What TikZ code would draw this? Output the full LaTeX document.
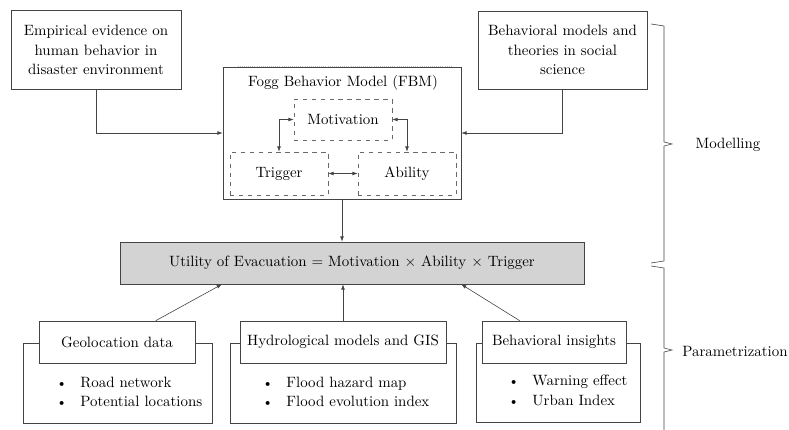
\documentclass[tikz,border=0pt]{standalone}
\usepackage{amsmath, amssymb}
\usepackage[usenames,dvipsnames, x11names, rgb]{xcolor}
\usepackage{tikz}
\usetikzlibrary{arrows.meta, calc}

\definecolor{boxline}{HTML}{444444}
\definecolor{utilfill}{HTML}{D3D3D3}
\newdimen\pxu
\pxu=0.67pt

\begin{document}
\begin{tikzpicture}[x=\pxu, y=-\pxu,
        box/.style={draw=boxline, fill=white, align=center, inner sep=0pt},
        dbox/.style={draw=boxline!80, dashed, fill=white, inner sep=0pt, minimum width=98\pxu},
        arr/.style={-{Latex[length=3.5pt, width=2.5pt]}, boxline},
        darr/.style={{Latex[length=3.5pt, width=2.5pt]}-{Latex[length=3.5pt, width=2.5pt]}, boxline},
        bracket/.style={boxline}]
        \useasboundingbox (0,0) rectangle (789,430);

        % top inputs
        \node (empirical) at (96,50)[box, minimum width=170\pxu, minimum height=79\pxu] {Empirical evidence on\\[1pt]human behavior in\\[1pt]disaster environment};
        \node (theories) at (562.5,50)[box, minimum width=169\pxu, minimum height=78\pxu] {Behavioral models and\\[1pt]theories in social\\[1pt]science};

        % Fogg model
        \node (fbm) at (342,133)[box, minimum width=238\pxu, minimum height=132\pxu] {};
        \draw[white, thick] ($(fbm.north west)+(15,0)$) -- ($(fbm.north east)+(-9,0)$);
        \draw[gray!50, densely dotted] ($(fbm.north west)+(15,0)$) -- ($(fbm.north east)+(-9,0)$);
        \node (fbm-title) at (343,83) {Fogg Behavior Model (FBM)};
        \node (motivation) at (343,119.5)[dbox, minimum height=41\pxu] {Motivation};
        \node (trigger) at (279,173.5)[dbox, minimum height=43\pxu] {Trigger};
        \node (ability) at (407,173.5)[dbox, minimum height=43\pxu] {Ability};

        % utility
        \node (utility) at (352,263)[box, fill=utilfill, minimum width=464\pxu, minimum height=42\pxu] {Utility of Evacuation = Motivation \(\times\) Ability \(\times\) Trigger};

        % data sources
        \node (geo-list) at (117.5,383)[draw=boxline, minimum width=189\pxu, minimum height=80\pxu] {};
        \node (hyd-list) at (343,383)[draw=boxline, minimum width=226\pxu, minimum height=80\pxu] {};
        \node (ins-list) at (558,382.5)[draw=boxline, minimum width=164\pxu, minimum height=79\pxu] {};
        \node (geo) at (117,342)[box, minimum width=156\pxu, minimum height=42\pxu] {Geolocation data};
        \node (hyd) at (343,342)[box, minimum width=206\pxu, minimum height=42\pxu] {Hydrological models and GIS};
        \node (ins) at (554,342)[box, minimum width=144\pxu, minimum height=42\pxu] {Behavioral insights};

        \node (geo-items) at (56,393.5)[anchor=west, inner sep=0pt] {\begin{tabular}{@{}l@{\hspace{9pt}}l@{}}{\small\textbullet} & Road network\\[1pt] {\small\textbullet} & Potential locations\end{tabular}};
        \node (hyd-items) at (262,393.5)[anchor=west, inner sep=0pt] {\begin{tabular}{@{}l@{\hspace{9pt}}l@{}}{\small\textbullet} & Flood hazard map\\[1pt] {\small\textbullet} & Flood evolution index\end{tabular}};
        \node (ins-items) at (508,392)[anchor=west, inner sep=0pt] {\begin{tabular}{@{}l@{\hspace{9pt}}l@{}}{\small\textbullet} & Warning effect\\[1pt] {\small\textbullet} & Urban Index\end{tabular}};

        % braces
        \coordinate (mod-top) at (651,24);
        \coordinate (mod-tip) at (672,144);
        \coordinate (mod-bot) at (651,263);
        \coordinate (par-top) at (651,266);
        \coordinate (par-tip) at (672,350);
        \coordinate (par-bot) at (651,437);
        \node (modelling) at (728,145) {Modelling};
        \node (parametrization) at (735,351) {Parametrization};

        \draw[arr] (empirical) |- (fbm);
        \draw[arr] (theories) |- (fbm);
        \draw[darr] (motivation) -| (trigger);
        \draw[darr] (motivation) -| (ability);
        \draw[darr] (trigger) -- (ability);
        \draw[arr] (fbm) -- (fbm.south |- utility.north);
        \draw[arr] (geo) -- ($(utility.south west)!0.22!(utility.south east)$);
        \draw[arr] (hyd) -- (hyd.north |- utility.south);
        \draw[arr] (ins) -- ($(utility.south west)!0.735!(utility.south east)$);
        \draw[bracket] (mod-top) -- ++(13,2) |- ($(mod-tip)+(-8,-2)$) -- (mod-tip) -- ++(-8,2) |- ($(mod-bot)+(13,-2)$) -- (mod-bot);
        \draw[bracket] (par-top) -- ++(13,2) |- ($(par-tip)+(-8,-2)$) -- (par-tip) -- ++(-8,2) |- ($(par-bot)+(13,-2)$) -- (par-bot);
    \end{tikzpicture}
\end{document}
